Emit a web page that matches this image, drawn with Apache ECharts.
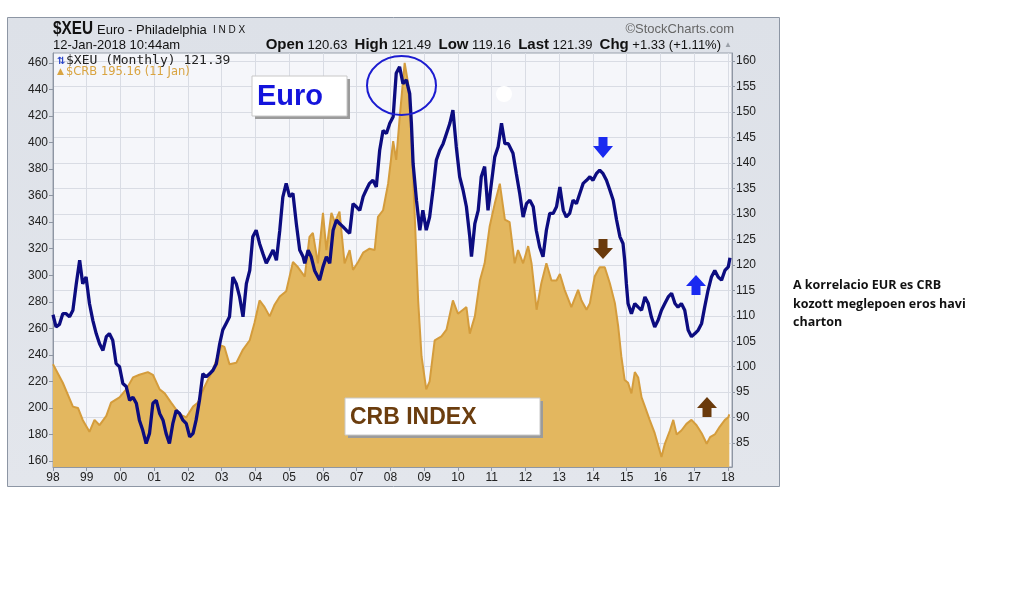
<!DOCTYPE html>
<html>
<head>
<meta charset="utf-8">
<script src="https://cdn.jsdelivr.net/npm/echarts@6/dist/echarts.min.js"></script>
<style>
html, body { margin: 0; padding: 0; background: #fff; }
#chart { width: 1022px; height: 608px; }
</style>
</head>
<body>
<div id="chart"></div>
<script>
// CRB index (left axis)
var crbYears = [
  1998.00, 1998.29, 1998.59, 1998.74, 1998.88, 1999.08, 1999.23, 1999.38, 1999.58, 1999.72,
  1999.97, 2000.17, 2000.37, 2000.56, 2000.81, 2000.96, 2001.16, 2001.31, 2001.50, 2001.70,
  2001.85, 2001.95, 2002.15, 2002.29, 2002.49, 2002.74, 2002.99, 2003.08, 2003.23, 2003.43,
  2003.63, 2003.83, 2003.97, 2004.12, 2004.27, 2004.42, 2004.57, 2004.72, 2004.91, 2005.11,
  2005.26, 2005.46, 2005.60, 2005.70, 2005.85, 2006.00, 2006.10, 2006.25, 2006.35, 2006.49,
  2006.64, 2006.79, 2006.89, 2007.04, 2007.19, 2007.38, 2007.53, 2007.63, 2007.78, 2007.93,
  2008.08, 2008.17, 2008.27, 2008.42, 2008.52, 2008.62, 2008.72, 2008.82, 2008.92, 2009.06,
  2009.16, 2009.31, 2009.51, 2009.66, 2009.85, 2010.00, 2010.15, 2010.25, 2010.35, 2010.50,
  2010.65, 2010.79, 2010.94, 2011.09, 2011.24, 2011.39, 2011.53, 2011.68, 2011.78, 2011.93,
  2012.08, 2012.18, 2012.33, 2012.47, 2012.62, 2012.77, 2012.92, 2013.02, 2013.16, 2013.36,
  2013.56, 2013.66, 2013.81, 2013.91, 2014.05, 2014.20, 2014.35, 2014.50, 2014.65, 2014.75,
  2014.84, 2014.94, 2015.04, 2015.14, 2015.24, 2015.34, 2015.44, 2015.54, 2015.68, 2015.83,
  2015.93, 2016.03, 2016.13, 2016.28, 2016.38, 2016.48, 2016.62, 2016.77, 2016.92, 2017.07,
  2017.22, 2017.37, 2017.47, 2017.61, 2017.76, 2017.91, 2018.01, 2018.04
];
var crbValues = [
  233, 219, 201, 200, 191, 182, 191, 187, 194, 204,
  208, 214, 223, 225, 227, 225, 214, 211, 204, 197,
  194, 193, 201, 204, 216, 229, 247, 246, 233, 234,
  244, 251, 264, 281, 276, 269, 278, 284, 288, 310,
  306, 299, 329, 332, 309, 347, 319, 347, 340, 348,
  309, 319, 304, 310, 317, 320, 319, 344, 349, 369,
  401, 387, 418, 460, 445, 405, 344, 281, 239, 214,
  220, 251, 254, 259, 281, 271, 274, 276, 256, 269,
  296, 309, 337, 354, 369, 342, 340, 309, 319, 309,
  322, 309, 274, 294, 309, 296, 296, 301, 289, 276,
  289, 281, 274, 279, 299, 306, 306, 294, 279, 261,
  239, 221, 219, 211, 227, 223, 208, 201, 191, 181,
  172, 163, 173, 183, 191, 180, 183, 188, 191, 187,
  181, 173, 178, 180, 186, 191, 193, 195.2
];

// $XEU monthly (right axis)
var euroYears = [
  1998.00, 1998.09, 1998.19, 1998.29, 1998.39, 1998.49, 1998.59, 1998.69, 1998.79, 1998.88,
  1998.98, 1999.08, 1999.18, 1999.28, 1999.38, 1999.48, 1999.58, 1999.67, 1999.77, 1999.87,
  1999.97, 2000.07, 2000.17, 2000.27, 2000.37, 2000.47, 2000.56, 2000.66, 2000.76, 2000.86,
  2000.96, 2001.06, 2001.16, 2001.26, 2001.35, 2001.45, 2001.55, 2001.65, 2001.75, 2001.85,
  2001.95, 2002.05, 2002.15, 2002.24, 2002.34, 2002.44, 2002.54, 2002.64, 2002.74, 2002.84,
  2002.94, 2003.03, 2003.13, 2003.23, 2003.33, 2003.43, 2003.53, 2003.63, 2003.73, 2003.83,
  2003.92, 2004.02, 2004.12, 2004.22, 2004.32, 2004.42, 2004.52, 2004.62, 2004.72, 2004.81,
  2004.91, 2005.01, 2005.11, 2005.21, 2005.31, 2005.41, 2005.46, 2005.56, 2005.65, 2005.75,
  2005.85, 2005.90, 2006.00, 2006.10, 2006.20, 2006.30, 2006.40, 2006.49, 2006.59, 2006.69,
  2006.79, 2006.89, 2006.99, 2007.09, 2007.19, 2007.28, 2007.38, 2007.48, 2007.58, 2007.68,
  2007.78, 2007.88, 2007.98, 2008.08, 2008.17, 2008.27, 2008.37, 2008.47, 2008.57, 2008.62,
  2008.67, 2008.77, 2008.87, 2008.96, 2009.06, 2009.16, 2009.26, 2009.36, 2009.46, 2009.56,
  2009.66, 2009.76, 2009.85, 2009.95, 2010.05, 2010.15, 2010.25, 2010.35, 2010.40, 2010.50,
  2010.60, 2010.69, 2010.79, 2010.89, 2010.99, 2011.09, 2011.19, 2011.29, 2011.39, 2011.49,
  2011.63, 2011.73, 2011.83, 2011.93, 2012.03, 2012.13, 2012.23, 2012.32, 2012.42, 2012.52,
  2012.62, 2012.72, 2012.82, 2012.92, 2013.02, 2013.12, 2013.21, 2013.31, 2013.41, 2013.51,
  2013.61, 2013.71, 2013.81, 2013.91, 2014.00, 2014.10, 2014.20, 2014.30, 2014.40, 2014.50,
  2014.60, 2014.70, 2014.80, 2014.89, 2014.94, 2014.99, 2015.04, 2015.14, 2015.24, 2015.34,
  2015.44, 2015.54, 2015.64, 2015.73, 2015.83, 2015.93, 2016.03, 2016.13, 2016.23, 2016.33,
  2016.43, 2016.52, 2016.62, 2016.72, 2016.82, 2016.92, 2017.02, 2017.12, 2017.22, 2017.31,
  2017.41, 2017.51, 2017.61, 2017.71, 2017.81, 2017.91, 2018.01, 2018.06
];
var euroValues = [
  110.2, 107.8, 108.3, 110.4, 110.4, 109.8, 111.1, 116.3, 120.9, 116.3,
  117.6, 112.4, 109.1, 106.5, 104.5, 103.2, 105.9, 106.5, 105.2, 100.6,
  100.0, 96.7, 96.1, 93.4, 94.0, 92.8, 89.5, 87.5, 84.9, 86.9,
  92.8, 93.4, 90.8, 89.5, 86.9, 84.9, 88.8, 91.4, 90.8, 89.5,
  88.8, 86.2, 86.9, 89.5, 93.4, 98.6, 98.0, 98.6, 99.3, 100.6,
  104.5, 107.2, 108.5, 109.8, 117.6, 116.3, 113.7, 109.8, 116.3, 118.9,
  125.5, 126.8, 124.2, 122.2, 120.3, 121.6, 122.9, 120.9, 126.8, 133.3,
  136.0, 133.4, 134.0, 128.1, 122.9, 121.6, 120.3, 122.9, 121.6, 118.9,
  117.6, 117.0, 119.6, 121.6, 120.3, 126.8, 128.8, 128.1, 127.5, 126.8,
  126.2, 132.0, 131.4, 130.7, 133.4, 134.7, 136.0, 136.6, 135.3, 142.5,
  146.4, 145.8, 147.8, 149.1, 157.6, 158.9, 155.6, 156.3, 153.6, 147.8,
  139.9, 132.7, 126.8, 130.7, 126.8, 129.4, 134.7, 140.6, 142.5, 143.8,
  145.8, 147.8, 150.4, 143.2, 137.3, 134.7, 131.4, 125.5, 121.6, 128.1,
  130.7, 137.3, 139.3, 130.7, 136.0, 141.2, 143.2, 147.8, 143.8, 143.8,
  141.9, 137.9, 134.0, 129.4, 132.0, 132.7, 131.4, 126.8, 123.5, 121.6,
  126.8, 130.1, 130.1, 131.4, 135.3, 130.7, 129.4, 130.1, 132.7, 132.0,
  134.0, 136.0, 136.6, 137.3, 136.6, 137.9, 138.6, 137.9, 136.6, 134.7,
  132.7, 128.8, 125.5, 124.2, 120.9, 116.3, 112.4, 110.4, 112.4, 111.7,
  111.1, 113.7, 112.4, 109.8, 107.8, 109.1, 111.1, 112.4, 113.7, 114.4,
  112.4, 111.7, 112.4, 111.1, 107.2, 105.9, 106.5, 107.2, 108.5, 111.7,
  115.0, 117.6, 118.9, 117.6, 117.0, 118.9, 119.6, 121.4
];

var crbTicks = [160, 180, 200, 220, 240, 260, 280, 300, 320, 340, 360, 380, 400, 420, 440, 460];
var euroTicks = [85, 90, 95, 100, 105, 110, 115, 120, 125, 130, 135, 140, 145, 150, 155, 160];

var crbData = crbYears.map(function (y, i) { return [y, crbValues[i]]; });
var euroData = euroYears.map(function (y, i) { return [y, euroValues[i]]; });

var FONT = '"Liberation Sans", Arial, sans-serif';

// annotation arrow (pointing down or up)
function arrow(cx, top, h, up, color) {
  var pts;
  if (!up) {
    pts = [[cx - 4.5, top], [cx + 4.5, top], [cx + 4.5, top + 9], [cx + 10, top + 9],
           [cx, top + h], [cx - 10, top + 9], [cx - 4.5, top + 9]];
  } else {
    var b = top + h;
    pts = [[cx - 4.5, b], [cx + 4.5, b], [cx + 4.5, b - 9], [cx + 10, b - 9],
           [cx, top], [cx - 10, b - 9], [cx - 4.5, b - 9]];
  }
  return { type: 'polygon', z: 100, shape: { points: pts }, style: { fill: color } };
}

function labelBox(x, y, w, h, text, color, size) {
  return [
    { type: 'rect', z: 99, shape: { x: x + 3, y: y + 3, width: w, height: h }, style: { fill: '#9b9b9b' } },
    { type: 'rect', z: 100, shape: { x: x, y: y, width: w, height: h }, style: { fill: '#fff', stroke: '#c8c8c8', lineWidth: 1 } },
    { type: 'text', z: 101, style: { text: text, x: x + 5, y: y + h / 2 + 1, fill: color,
      font: 'bold ' + size + 'px ' + FONT, textVerticalAlign: 'middle' } }
  ];
}

var chart = echarts.init(document.getElementById('chart'));

var graphics = [
  // outer panel and plot background
  { type: 'rect', z: -20, shape: { x: 7.5, y: 17.5, width: 772, height: 469 },
    style: { fill: new echarts.graphic.LinearGradient(0, 0, 0, 1, [
      { offset: 0, color: '#dde1e8' }, { offset: 1, color: '#e3e6ec' }]), stroke: '#8d96a4', lineWidth: 1 } },
  { type: 'rect', z: -10, shape: { x: 53, y: 53, width: 679, height: 414 },
    style: { fill: '#f5f6fa', stroke: '#9aa1ac', lineWidth: 1 } },

  // header
  { type: 'text', x: 53, y: 29, scaleX: 0.85,
    style: { text: '$XEU', x: 0, y: 0, font: 'bold 18px ' + FONT, fill: '#111', textVerticalAlign: 'middle' } },
  { type: 'text', style: { text: 'Euro - Philadelphia', x: 97, y: 30, font: '13px ' + FONT, fill: '#111', textVerticalAlign: 'middle' } },
  { type: 'text', style: { text: 'I N D X', x: 213, y: 30, font: '10px ' + FONT, fill: '#111', textVerticalAlign: 'middle' } },
  { type: 'text', style: { text: '12-Jan-2018 10:44am', x: 53, y: 45, font: '13px ' + FONT, fill: '#111', textVerticalAlign: 'middle' } },
  { type: 'text', style: { text: '©StockCharts.com', x: 734, y: 29, font: '13px ' + FONT, fill: '#666', textAlign: 'right', textVerticalAlign: 'middle' } },
  { type: 'text', style: {
      text: '{b|Open} 120.63  {b|High} 121.49  {b|Low} 119.16  {b|Last} 121.39  {b|Chg} +1.33 (+1.11%)',
      x: 721, y: 45, font: '13px ' + FONT, fill: '#111', textAlign: 'right', textVerticalAlign: 'middle',
      rich: { b: { font: 'bold 15px ' + FONT, fill: '#111' } } } },
  { type: 'text', style: { text: '▲', x: 728, y: 45, font: '8px ' + FONT, fill: '#9aa0a8', textAlign: 'center', textVerticalAlign: 'middle' } },

  // legend inside plot
  { type: 'text', z: 100, style: { text: '⇅', x: 57, y: 61, font: 'bold 10px "DejaVu Sans"', fill: '#2a45c8', textVerticalAlign: 'middle' } },
  { type: 'text', z: 100, style: { text: '$XEU (Monthly) 121.39', x: 66, y: 61, font: '13px "DejaVu Sans Mono"', fill: '#222', textVerticalAlign: 'middle' } },
  { type: 'text', z: 100, style: { text: '▲', x: 57, y: 72, font: '9px "DejaVu Sans"', fill: '#d9a441', textVerticalAlign: 'middle' } },
  { type: 'text', z: 100, style: { text: '$CRB 195.16 (11 Jan)', x: 66, y: 72, font: '11.5px "DejaVu Sans"', fill: '#d9a441', textVerticalAlign: 'middle' } },

  // peak circle and markers
  { type: 'ellipse', z: 100, shape: { cx: 401.5, cy: 85.5, rx: 34.5, ry: 29.5 },
    style: { fill: 'none', stroke: '#1c1cd0', lineWidth: 2 } },
  { type: 'circle', z: 100, shape: { cx: 504, cy: 94, r: 8 }, style: { fill: '#fff' } },
  arrow(603, 137, 21, false, '#1a2af0'),
  arrow(603, 239, 20, false, '#6a3a0c'),
  arrow(696, 275, 20, true, '#1a2af0'),
  arrow(707, 397, 20, true, '#6a3a0c'),

  // caption on the right
  { type: 'text', style: { text: 'A korrelacio EUR es CRB', x: 793, y: 285, font: 'bold 12.5px "Open Sans"', fill: '#111', textVerticalAlign: 'middle' } },
  { type: 'text', style: { text: 'kozott meglepoen eros havi', x: 793, y: 304, font: 'bold 12.5px "Open Sans"', fill: '#111', textVerticalAlign: 'middle' } },
  { type: 'text', style: { text: 'charton', x: 793, y: 322, font: 'bold 12.5px "Open Sans"', fill: '#111', textVerticalAlign: 'middle' } }
]
  .concat(labelBox(252, 76, 95, 40, 'Euro', '#1414dc', 29))
  .concat(labelBox(345, 398, 195, 37, 'CRB INDEX', '#6b3d0e', 23));

var option = {
  animation: false,
  backgroundColor: '#fff',
  grid: { left: 53, right: 290, top: 53, bottom: 141, containLabel: false },
  xAxis: {
    type: 'value', min: 1998, max: 2018.12, interval: 1,
    axisLine: { lineStyle: { color: '#8e96a3' } },
    axisTick: { length: 4, lineStyle: { color: '#8e96a3' } },
    axisLabel: {
      color: '#222', fontFamily: FONT, fontSize: 12, margin: 5, showMaxLabel: false,
      formatter: function (v) {
        if (Math.abs(v - Math.round(v)) > 0.001) return '';
        var s = String(Math.round(v) % 100);
        return s.length < 2 ? '0' + s : s;
      }
    },
    splitLine: { show: true, lineStyle: { color: '#d9dce4' } }
  },
  yAxis: [
    {
      type: 'value', position: 'left', min: 155.5, max: 467.5,
      axisLine: { show: true, lineStyle: { color: '#8e96a3' } },
      axisTick: { show: true, length: 4, customValues: crbTicks, lineStyle: { color: '#8e96a3' } },
      axisLabel: { customValues: crbTicks, color: '#222', fontFamily: FONT, fontSize: 12, margin: 5 },
      splitLine: { show: false }
    },
    {
      type: 'value', position: 'right', min: 80.3, max: 161.6,
      axisLine: { show: true, lineStyle: { color: '#8e96a3' } },
      axisTick: { show: true, length: 3, customValues: euroTicks, lineStyle: { color: '#8e96a3' } },
      axisLabel: { customValues: euroTicks, color: '#222', fontFamily: FONT, fontSize: 12, margin: 4 },
      splitLine: { show: true, lineStyle: { color: '#d9dce4' } }
    }
  ],
  series: [
    {
      name: '$CRB', type: 'line', yAxisIndex: 0, data: crbData,
      showSymbol: false, z: 2,
      lineStyle: { color: '#d49c3c', width: 2 },
      areaStyle: { color: '#e3b75f', opacity: 1, origin: 'start' }
    },
    {
      name: '$XEU', type: 'line', yAxisIndex: 1, data: euroData,
      showSymbol: false, z: 3,
      lineStyle: { color: '#0c0c80', width: 3.3 }
    }
  ],
  graphic: { elements: graphics }
};

chart.setOption(option);
</script>
</body>
</html>
